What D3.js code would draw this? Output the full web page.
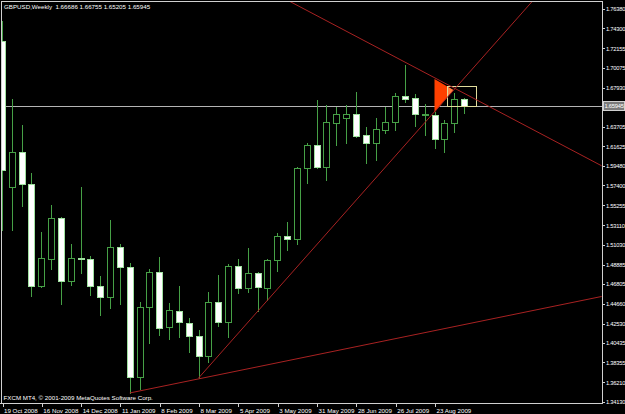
<!DOCTYPE html>
<html>
<head>
<meta charset="utf-8">
<script src="https://cdn.jsdelivr.net/npm/d3@7"></script>
<style>
  html, body { margin: 0; padding: 0; background: #000; }
  svg { display: block; }
  text { font-family: "Liberation Sans", Arial, sans-serif; font-size: 6.2px; fill: #fff; }
</style>
</head>
<body>
<svg width="625" height="414"></svg>
<script>
// weekly GBPUSD bars, bar 0 = week of 19 Oct 2008
var opens = [1.7297, 1.5723, 1.6100, 1.5755, 1.4658, 1.4949, 1.5390, 1.4712, 1.4959, 1.4949,
  1.4658, 1.4540, 1.5078, 1.4862, 1.3679, 1.4432, 1.4809, 1.4217, 1.4389, 1.4260,
  1.4120, 1.3905, 1.4486, 1.4271, 1.4873, 1.4636, 1.4798, 1.4636, 1.4938, 1.5196,
  1.5164, 1.5928, 1.6175, 1.5938, 1.6412, 1.6465, 1.6508, 1.6283, 1.6196, 1.6336,
  1.6422, 1.6702, 1.6681, 1.6505, 1.6498, 1.6239, 1.6412, 1.66686];
var highs = [1.7512, 1.6670, 1.6390, 1.5874, 1.5239, 1.5529, 1.5395, 1.5110, 1.5723, 1.4981,
  1.4766, 1.5368, 1.5110, 1.4905, 1.4486, 1.4841, 1.4970, 1.4475, 1.4658, 1.4314,
  1.4185, 1.4593, 1.4776, 1.4895, 1.4949, 1.5067, 1.4805, 1.4949, 1.5228, 1.5346,
  1.5938, 1.6196, 1.6659, 1.6605, 1.6584, 1.6605, 1.6745, 1.6369, 1.6465, 1.6584,
  1.6734, 1.7036, 1.6723, 1.6616, 1.6530, 1.6444, 1.6734, 1.66755];
var lows = [1.5261, 1.5261, 1.5519, 1.4550, 1.4647, 1.4841, 1.4464, 1.4669, 1.4798, 1.4561,
  1.4346, 1.4421, 1.4464, 1.3507, 1.3550, 1.4045, 1.4131, 1.4088, 1.4109, 1.3948,
  1.3668, 1.3840, 1.4228, 1.4109, 1.4583, 1.4593, 1.4389, 1.4507, 1.4819, 1.5045,
  1.5110, 1.5766, 1.5928, 1.5798, 1.6175, 1.6196, 1.6261, 1.5981, 1.6014, 1.6304,
  1.6336, 1.6637, 1.6379, 1.6283, 1.6143, 1.6100, 1.6315, 1.65205];
var closes = [1.5906, 1.6100, 1.5755, 1.4658, 1.4959, 1.5390, 1.4712, 1.4959, 1.4949, 1.4658,
  1.4540, 1.5078, 1.4862, 1.3679, 1.4432, 1.4809, 1.4206, 1.4400, 1.4271, 1.4120,
  1.3905, 1.4486, 1.4271, 1.4873, 1.4636, 1.4798, 1.4647, 1.4938, 1.5196, 1.5164,
  1.5928, 1.6175, 1.5938, 1.6422, 1.6508, 1.6508, 1.6272, 1.6196, 1.6347, 1.6422,
  1.6702, 1.6670, 1.6508, 1.6508, 1.6239, 1.6412, 1.6670, 1.65945];

var dateLabels = ["19 Oct 2008", "16 Nov 2008", "14 Dec 2008", "11 Jan 2009", "8 Feb 2009", "8 Mar 2009",
  "5 Apr 2009", "3 May 2009", "31 May 2009", "28 Jun 2009", "26 Jul 2009", "23 Aug 2009"];
var dateLabelBars = [0, 4, 8, 12, 16, 20, 24, 28, 32, 36, 40, 44];
var priceTicks = [1.76380, 1.74300, 1.72155, 1.70075, 1.67930, 1.63705, 1.61625, 1.59480,
  1.57400, 1.55255, 1.53110, 1.51030, 1.48885, 1.46805, 1.44660, 1.42530, 1.40435,
  1.38355, 1.36210, 1.34130];

var bidPrice = 1.65945;
var headerText = "GBPUSD,Weekly  1.66686 1.66755 1.65205 1.65945";
var footerText = "FXCM MT4, \u00a9 2001-2009 MetaQuotes Software Corp.";

// drawn objects, as [bar, price] points
var trendDown = [[29, 1.7735], [61, 1.5951]];
var trendUp = [[20, 1.3668], [54, 1.7727]];
var trendLow = [[13, 1.3507], [61, 1.4545]];
var triangle = [[44, 1.6885], [44, 1.6525], [45.9, 1.6767]];
var box = [[45.3, 1.6810], [48.2, 1.6590]];

var svg = d3.select("svg"),
    plotRight = 602, plotBottom = 403;

svg.append("rect").attr("width", 625).attr("height", 414).attr("fill", "#000");

var x = d3.scaleLinear().domain([0, 61]).range([2, 601.63]),
    y = d3.scaleLinear().domain([1.34130, 1.76380]).range([401.7, 9]);

var green = "#46a046", red = "#a82222", frame = "#d0d0d0";

svg.append("defs").append("clipPath").attr("id", "plot")
  .append("rect").attr("x", 1).attr("y", 1).attr("width", plotRight - 1).attr("height", plotBottom - 1);

var g = svg.append("g").attr("clip-path", "url(#plot)");

// bid line
g.append("line")
  .attr("x1", 0).attr("x2", plotRight)
  .attr("y1", Math.round(y(bidPrice)) + 0.5).attr("y2", Math.round(y(bidPrice)) + 0.5)
  .attr("stroke", "#b4b4b4").attr("shape-rendering", "crispEdges");

var bars = d3.range(opens.length);
var px = function(i) { return Math.round(x(i)); };

// wicks
g.selectAll(".wick").data(bars).enter().append("line")
  .attr("class", "wick")
  .attr("x1", function(i) { return px(i) + 0.5; })
  .attr("x2", function(i) { return px(i) + 0.5; })
  .attr("y1", function(i) { return Math.round(y(highs[i])); })
  .attr("y2", function(i) { return Math.round(y(lows[i])) + 1; })
  .attr("stroke", green).attr("shape-rendering", "crispEdges");

// bodies: white = falling week, black = rising week
g.selectAll(".body").data(bars).enter().append("rect")
  .attr("class", "body")
  .attr("x", function(i) { return px(i) - 3 + 0.5; })
  .attr("y", function(i) { return Math.round(y(Math.max(opens[i], closes[i]))) + 0.5; })
  .attr("width", 6)
  .attr("height", function(i) {
    var h = Math.round(y(Math.min(opens[i], closes[i]))) - Math.round(y(Math.max(opens[i], closes[i])));
    return Math.max(h, 0.6);
  })
  .attr("fill", function(i) { return closes[i] < opens[i] ? "#fff" : "#000"; })
  .attr("stroke", function(i) { return closes[i] < opens[i] ? "#9fe09f" : green; })
  .attr("shape-rendering", "crispEdges");

// triangle and box
var poly = function(pts) { return pts.map(function(d) { return [x(d[0]), y(d[1])]; }); };
var tri = poly(triangle);
g.append("polygon").attr("points", tri.join(" ")).attr("fill", "#ff4000");

svg.select("defs").append("clipPath").attr("id", "boxclip")
  .append("rect")
  .attr("x", x(box[0][0])).attr("y", y(box[0][1]))
  .attr("width", x(box[1][0]) - x(box[0][0])).attr("height", y(box[1][1]) - y(box[0][1]));
g.append("polygon").attr("points", tri.join(" ")).attr("fill", "#ff8040")
  .attr("clip-path", "url(#boxclip)");

g.append("rect")
  .attr("x", Math.round(x(box[0][0])) + 0.5).attr("y", Math.round(y(box[0][1])) + 0.5)
  .attr("width", Math.round(x(box[1][0]) - x(box[0][0])))
  .attr("height", Math.round(y(box[1][1]) - y(box[0][1])))
  .attr("fill", "none").attr("stroke", "#e0dc9c").attr("shape-rendering", "crispEdges");

// trend lines
var line = d3.line().x(function(d) { return x(d[0]); }).y(function(d) { return y(d[1]); });
[trendDown, trendUp, trendLow].forEach(function(t) {
  g.append("path").attr("d", line(t)).attr("fill", "none").attr("stroke", red).attr("stroke-width", 1);
});

// frame
svg.append("path")
  .attr("d", "M1.5," + (plotBottom + 0.5) + "V1.5H" + (plotRight + 0.5) + "V" + (plotBottom + 0.5) + "H0")
  .attr("fill", "none").attr("stroke", frame).attr("shape-rendering", "crispEdges");

// price axis (labels squeezed a little so they stay inside the window)
var yAxis = svg.append("g")
  .attr("transform", "translate(" + (plotRight + 0.5) + ",0)")
  .call(d3.axisRight(y).tickValues(priceTicks).tickFormat(d3.format(".5f")).tickSize(2).tickPadding(1.5));
yAxis.select(".domain").remove();
yAxis.selectAll("line").attr("stroke", frame).attr("shape-rendering", "crispEdges");
yAxis.selectAll("text").attr("fill", "#fff").attr("font-family", null)
  .style("font-size", "5.8px").style("letter-spacing", "-0.25px");

// bid price label
var by = y(bidPrice);
svg.append("rect").attr("x", 603.5).attr("y", Math.round(by) - 4.5).attr("width", 21).attr("height", 9)
  .attr("fill", "#7a7a7a").attr("stroke", "#d0d0d0").attr("shape-rendering", "crispEdges");
svg.append("text").attr("x", 604.5).attr("y", by).attr("dy", "0.35em")
  .style("font-size", "5.8px").style("letter-spacing", "-0.25px")
  .text(d3.format(".5f")(bidPrice));

// time axis
var xAxis = svg.append("g")
  .attr("transform", "translate(0," + (plotBottom + 0.5) + ")")
  .call(d3.axisBottom(x).tickValues(dateLabelBars)
    .tickFormat(function(d, i) { return dateLabels[i]; }).tickSize(3).tickPadding(2));
xAxis.select(".domain").remove();
xAxis.selectAll("line").attr("stroke", frame).attr("transform", "translate(0.5,0)").attr("shape-rendering", "crispEdges");
xAxis.selectAll("text").attr("text-anchor", "start").attr("dx", 1.5)
  .attr("fill", "#fff").style("font-size", "6.2px");

// captions
svg.append("text").attr("x", 4).attr("y", 8.5).text(headerText).style("white-space", "pre");
svg.append("text").attr("x", 3.5).attr("y", 399.5).text(footerText);
</script>
</body>
</html>
